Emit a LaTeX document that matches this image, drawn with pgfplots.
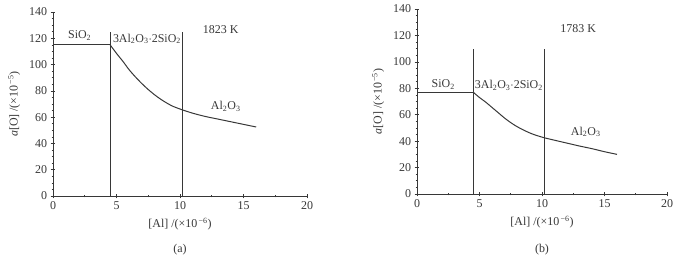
\documentclass[border=0pt]{standalone}
\usepackage{fontspec}
\setmainfont{Liberation Serif}
\usepackage{pgfplots}
\pgfplotsset{compat=1.18}
\definecolor{ink}{RGB}{55,55,55}
\pgfplotsset{
  myax/.style={
    scale only axis,
    xmin=0, xmax=20, ymin=0, ymax=140,
    axis lines=left,
    axis line style={-, ink, line width=0.9pt},
    xtick={0,5,10,15,20},
    ytick={0,20,...,140},
    minor x tick num=1,
    minor y tick num=3,
    tick align=center,
    major tick length=5pt,
    minor tick length=3pt,
    tick style={ink, line width=0.6pt},
    ticklabel style={font=\fontsize{12}{14}\selectfont, text=ink},
    /pgf/number format/assume math mode=true,
    label style={font=\fontsize{12}{14}\selectfont, text=ink},
    xlabel={[Al] /(\texttimes10\textsuperscript{\,\textminus6})},
    ylabel={\textit{a}[O] /(\texttimes10\textsuperscript{\,\textminus5})},
    xlabel style={yshift=-1pt},
    ylabel style={yshift=2pt},
    clip=false,
  },
}
\newcommand{\lab}[1]{\fontsize{12}{14}\selectfont\color{ink}#1}
\begin{document}
\begin{tikzpicture}
\path[use as bounding box] (0,0) rectangle (681bp,262bp);
\begin{axis}[myax, at={(53bp,66bp)}, anchor=south west, width=254bp, height=184bp]
\addplot[ink, line width=1pt] coordinates {(0,115) (4.5,115)};
\addplot[ink, line width=0.9pt] coordinates {(4.5,0) (4.5,125)};
\addplot[ink, line width=0.9pt] coordinates {(10.2,0) (10.2,125)};
\addplot[ink, line width=1pt, smooth] coordinates {
(4.5,115) (5,108.5) (5.5,102.5) (6,96) (6.5,90.5) (7,85.5) (7.5,81) (8,77) (8.5,73.5) (9,70.5) (9.5,68) (10.2,65.5)};
\addplot[ink, line width=1pt, smooth] coordinates {
(10.2,65.5) (11,63) (12,60.5) (13,58.5) (14,56.5) (15,54.5) (16,52.5)};
\node[font=\lab{}] at (axis cs:2.1,122) {SiO\textsubscript{2}};
\node[font=\lab{}, inner sep=0pt] at (axis cs:7.4,119.5) {3Al\textsubscript{2}O\textsubscript{3}$\cdot$2SiO\textsubscript{2}};
\node[font=\lab{}] at (axis cs:13.6,68) {Al\textsubscript{2}O\textsubscript{3}};
\node[font=\lab{}] at (axis cs:13.2,127) {1823 K};
\node[font=\lab{}] at (axis cs:10,-41) {(a)};
\end{axis}
\begin{axis}[myax, at={(417bp,68bp)}, anchor=south west, width=250bp, height=185bp]
\addplot[ink, line width=1pt] coordinates {(0,77) (4.5,77)};
\addplot[ink, line width=0.9pt] coordinates {(4.5,0) (4.5,110)};
\addplot[ink, line width=0.9pt] coordinates {(10.2,0) (10.2,110)};
\addplot[ink, line width=1pt, smooth] coordinates {
(4.5,77) (5,73) (5.5,69.5) (6,65.5) (6.5,61.5) (7,57.5) (7.5,54) (8,51) (8.5,48.5) (9,46.3) (9.5,44.5) (10.2,42.5)};
\addplot[ink, line width=1pt, smooth] coordinates {
(10.2,42.5) (11,40.7) (12,38.5) (13,36.3) (14,34.3) (15,32) (16,30)};
\node[font=\lab{}] at (axis cs:2.1,83) {SiO\textsubscript{2}};
\node[font=\lab{}, inner sep=0pt] at (axis cs:7.35,82) {3Al\textsubscript{2}O\textsubscript{3}$\cdot$2SiO\textsubscript{2}};
\node[font=\lab{}] at (axis cs:13.5,47) {Al\textsubscript{2}O\textsubscript{3}};
\node[font=\lab{}] at (axis cs:12.9,125) {1783 K};
\node[font=\lab{}] at (axis cs:10,-42) {(b)};
\end{axis}
\end{tikzpicture}
\end{document}
